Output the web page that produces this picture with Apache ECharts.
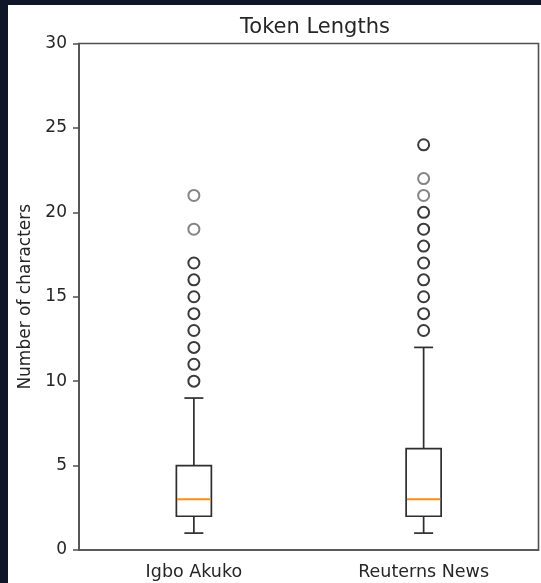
<!DOCTYPE html>
<html>
<head>
<meta charset="utf-8">
<script src="https://cdn.jsdelivr.net/npm/echarts@6/dist/echarts.min.js"></script>
<style>
  html, body { margin: 0; padding: 0; width: 541px; height: 583px; background: #0f1627; overflow: hidden; }
  #chart { position: absolute; left: 8px; top: 5px; width: 533px; height: 578px; }
</style>
</head>
<body>
<div id="chart"></div>
<script>
// Token length distributions (characters per token)
const categories = ['Igbo Akuko', 'Reuterns News'];
const whiskerLow = [1, 1];
const quartile1 = [2, 2];
const medians = [3, 3];
const quartile3 = [5, 6];
const whiskerHigh = [9, 12];

// Outliers: frequent values (many overlapping markers) and rare ones
const igboOutliersFrequent = [10, 11, 12, 13, 14, 15, 16, 17];
const igboOutliersRare = [19, 21];
const reutersOutliersFrequent = [13, 14, 15, 16, 17, 18, 19, 20, 24];
const reutersOutliersRare = [21, 22];

const yTicks = { min: 0, max: 30, step: 5 };

const FONT = '"DejaVu Sans", sans-serif';
const TEXT = '#262626';
const FRAME = '#505050';

const boxData = categories.map((c, i) =>
  [i, whiskerLow[i], quartile1[i], medians[i], quartile3[i], whiskerHigh[i]]);

const toPoints = (idx, vals) => vals.map(v => [categories[idx], v]);
const frequentPts = toPoints(0, igboOutliersFrequent).concat(toPoints(1, reutersOutliersFrequent));
const rarePts = toPoints(0, igboOutliersRare).concat(toPoints(1, reutersOutliersRare));

function renderBox(params, api) {
  const i = api.value(0);
  const pLow = api.coord([i, api.value(1)]);
  const pQ1 = api.coord([i, api.value(2)]);
  const pMed = api.coord([i, api.value(3)]);
  const pQ3 = api.coord([i, api.value(4)]);
  const pHigh = api.coord([i, api.value(5)]);
  const cx = pQ1[0];
  const half = 17.5;
  const capHalf = 9.5;
  const stroke = { stroke: '#2e2e2e', lineWidth: 1.7, fill: null };
  return {
    type: 'group',
    children: [
      { type: 'rect', shape: { x: cx - half, y: pQ3[1], width: half * 2, height: pQ1[1] - pQ3[1] }, style: stroke },
      { type: 'line', shape: { x1: cx, y1: pQ3[1], x2: cx, y2: pHigh[1] }, style: stroke },
      { type: 'line', shape: { x1: cx, y1: pQ1[1], x2: cx, y2: pLow[1] }, style: stroke },
      { type: 'line', shape: { x1: cx - capHalf, y1: pHigh[1], x2: cx + capHalf, y2: pHigh[1] }, style: stroke },
      { type: 'line', shape: { x1: cx - capHalf, y1: pLow[1], x2: cx + capHalf, y2: pLow[1] }, style: stroke },
      { type: 'line', shape: { x1: cx - half + 0.8, y1: pMed[1], x2: cx + half - 0.8, y2: pMed[1] }, style: { stroke: '#ff8c1a', lineWidth: 2 } }
    ]
  };
}

const chart = echarts.init(document.getElementById('chart'), null, { renderer: 'canvas' });
chart.setOption({
  backgroundColor: '#ffffff',
  animation: false,
  title: {
    text: 'Token Lengths',
    left: 302,
    top: 7,
    textAlign: 'center',
    textStyle: { fontFamily: FONT, fontSize: 21, fontWeight: 'normal', color: TEXT }
  },
  grid: {
    left: 71, right: 2.5, top: 38.5, bottom: 33,
    show: true, borderColor: FRAME, borderWidth: 1.6, backgroundColor: 'transparent'
  },
  xAxis: {
    type: 'category',
    data: categories,
    boundaryGap: true,
    axisLine: { lineStyle: { color: FRAME, width: 1.6 } },
    axisTick: { alignWithLabel: true, length: 6, lineStyle: { color: FRAME, width: 1.5 } },
    axisLabel: { fontFamily: FONT, fontSize: 17.5, color: TEXT, margin: 13 },
    splitLine: { show: false }
  },
  yAxis: {
    type: 'value',
    min: yTicks.min,
    max: yTicks.max,
    interval: yTicks.step,
    name: 'Number of characters',
    nameLocation: 'middle',
    nameRotate: 90,
    nameGap: 44,
    nameTextStyle: { fontFamily: FONT, fontSize: 17, color: TEXT },
    axisLine: { show: true, lineStyle: { color: FRAME, width: 1.6 } },
    axisTick: { show: true, length: 6, lineStyle: { color: FRAME, width: 1.5 } },
    axisLabel: { fontFamily: FONT, fontSize: 17, color: TEXT, margin: 12 },
    splitLine: { show: false }
  },
  series: [
    {
      type: 'custom',
      renderItem: renderBox,
      encode: { x: 0, y: [1, 2, 3, 4, 5] },
      data: boxData,
      z: 3
    },
    {
      type: 'scatter',
      data: frequentPts,
      symbol: 'emptyCircle',
      symbolSize: 11,
      itemStyle: { color: '#0a0a0a', borderColor: '#0a0a0a', borderWidth: 3.1 },
      z: 4
    },
    {
      type: 'scatter',
      data: rarePts,
      symbol: 'emptyCircle',
      symbolSize: 11,
      itemStyle: { color: '#666666', borderColor: '#666666', borderWidth: 2.4 },
      z: 4
    }
  ]
});
</script>
</body>
</html>
